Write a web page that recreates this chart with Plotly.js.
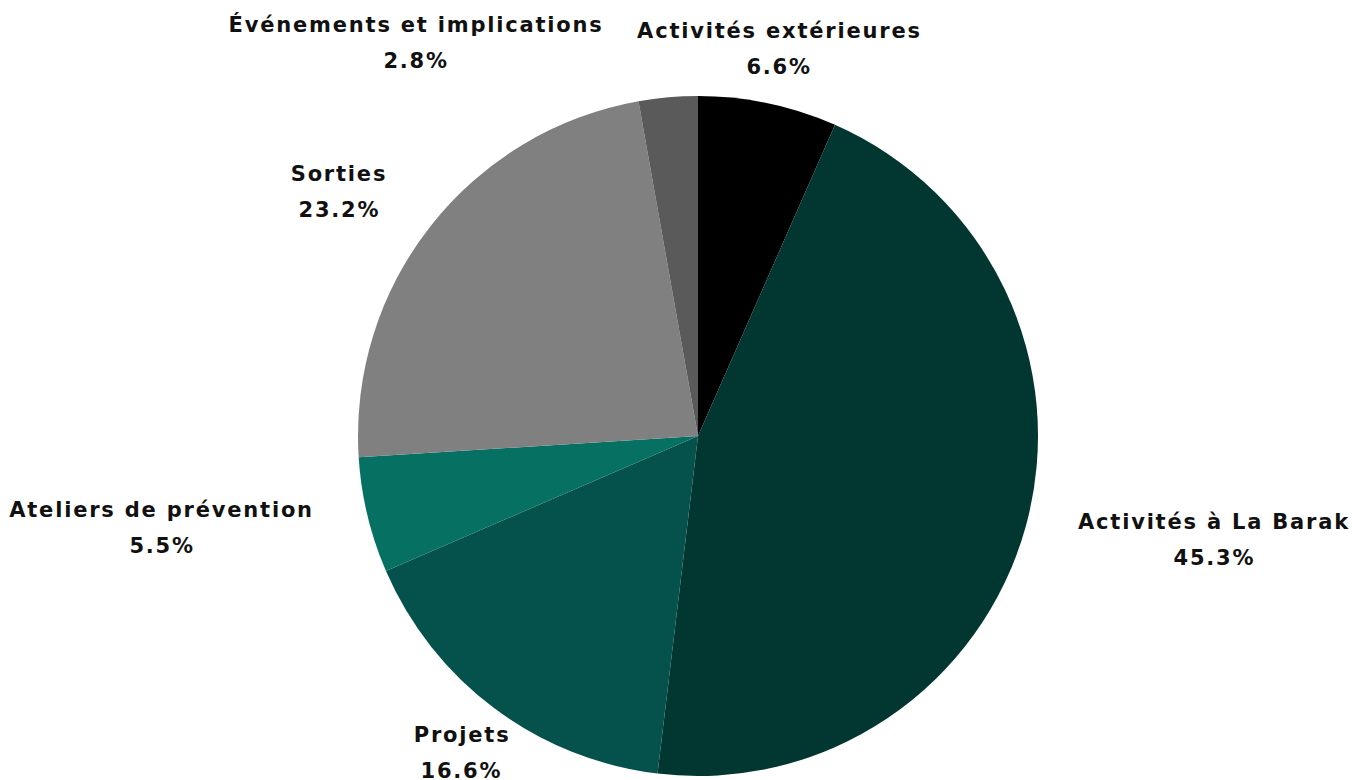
<!DOCTYPE html>
<html>
<head>
<meta charset="utf-8">
<script src="https://cdn.plot.ly/plotly-3.0.1.min.js"></script>
<style>
html,body{margin:0;padding:0;background:#fff;}
#chart{width:1360px;height:780px;}
#chart .annotation-text{letter-spacing:1.8px;}
</style>
</head>
<body>
<div id="chart"></div>
<script>
const categories = ["Activités extérieures", "Activités à La Barak", "Projets", "Ateliers de prévention", "Sorties", "Événements et implications"];
const values = [6.6, 45.3, 16.6, 5.5, 23.2, 2.8];
const colors = ["#000000", "#023631", "#04524b", "#067163", "#808080", "#5a5a5a"];

const W = 1360, H = 780;
const margin = {t: 96, b: 4, l: 358, r: 322};
const FONT = "DejaVu Sans, sans-serif";
const FSIZE = 21;
const LSP = 1.8;        // letter spacing (px)
const LINE_GAP = 36;    // distance between the two label lines
const BOX_H = 60;       // approximate label box height
const OFFSET = 55;      // distance from pie edge to label anchor
const MIN_GAP = 33;     // minimal horizontal gap between colliding labels

// geometry derived from the layout
const plotW = W - margin.l - margin.r, plotH = H - margin.t - margin.b;
const cx = margin.l + plotW / 2, cy = margin.t + plotH / 2;
const R = Math.min(plotW, plotH) / 2;

const canvas = document.createElement("canvas");
const ctx = canvas.getContext("2d");
ctx.font = "bold " + FSIZE + "px " + FONT;
function textW(s) { return ctx.measureText(s).width + LSP * s.length; }

const total = values.reduce((a, b) => a + b, 0);
let cum = 0;
const boxes = values.map((v, i) => {
  const mid = (cum + v / 2) / total * 2 * Math.PI;
  cum += v;
  const ux = Math.sin(mid), uy = -Math.cos(mid);
  const pct = (v / total * 100).toFixed(1) + "%";
  const w = Math.max(textW(categories[i]), textW(pct));
  const px = cx + (R + OFFSET) * ux, py = cy + (R + OFFSET) * uy;
  // side labels are aligned to the anchor, top/bottom labels are centred on it
  const side = Math.abs(ux) > Math.abs(uy);
  const x = side ? px + Math.sign(ux) * w / 2 : px;
  return {i, v, pct, w, x, y: py};
});

// simple collision avoidance: move the smaller label horizontally away
for (let a = 0; a < boxes.length; a++) {
  for (let b = 0; b < boxes.length; b++) {
    if (a === b) continue;
    const A = boxes[a], B = boxes[b];
    const overlapY = Math.abs(A.y - B.y) < BOX_H;
    const need = (A.w + B.w) / 2 + MIN_GAP;
    if (overlapY && Math.abs(A.x - B.x) < need && A.v < B.v) {
      const dir = A.x < B.x ? -1 : 1;
      A.x = B.x + dir * need;
    }
  }
}

const toPX = x => (x - margin.l) / plotW;
const toPY = y => 1 - (y - margin.t) / plotH;
const annotations = [];
boxes.forEach(b => {
  annotations.push({xref: "paper", yref: "paper", x: toPX(b.x), y: toPY(b.y - LINE_GAP / 2),
    text: "<b>" + categories[b.i] + "</b>", showarrow: false, xanchor: "center", yanchor: "middle",
    font: {family: FONT, size: FSIZE, color: "#111111"}});
  annotations.push({xref: "paper", yref: "paper", x: toPX(b.x), y: toPY(b.y + LINE_GAP / 2),
    text: "<b>" + b.pct + "</b>", showarrow: false, xanchor: "center", yanchor: "middle",
    font: {family: FONT, size: FSIZE, color: "#111111"}});
});

Plotly.newPlot("chart", [{
  type: "pie",
  labels: categories,
  values: values,
  sort: false,
  direction: "clockwise",
  rotation: 0,
  marker: {colors: colors, line: {width: 0}},
  textinfo: "none",
  hoverinfo: "label+percent",
  showlegend: false
}], {
  width: W, height: H,
  margin: margin,
  paper_bgcolor: "#ffffff",
  showlegend: false,
  annotations: annotations
}, {displayModeBar: false});
</script>
</body>
</html>
